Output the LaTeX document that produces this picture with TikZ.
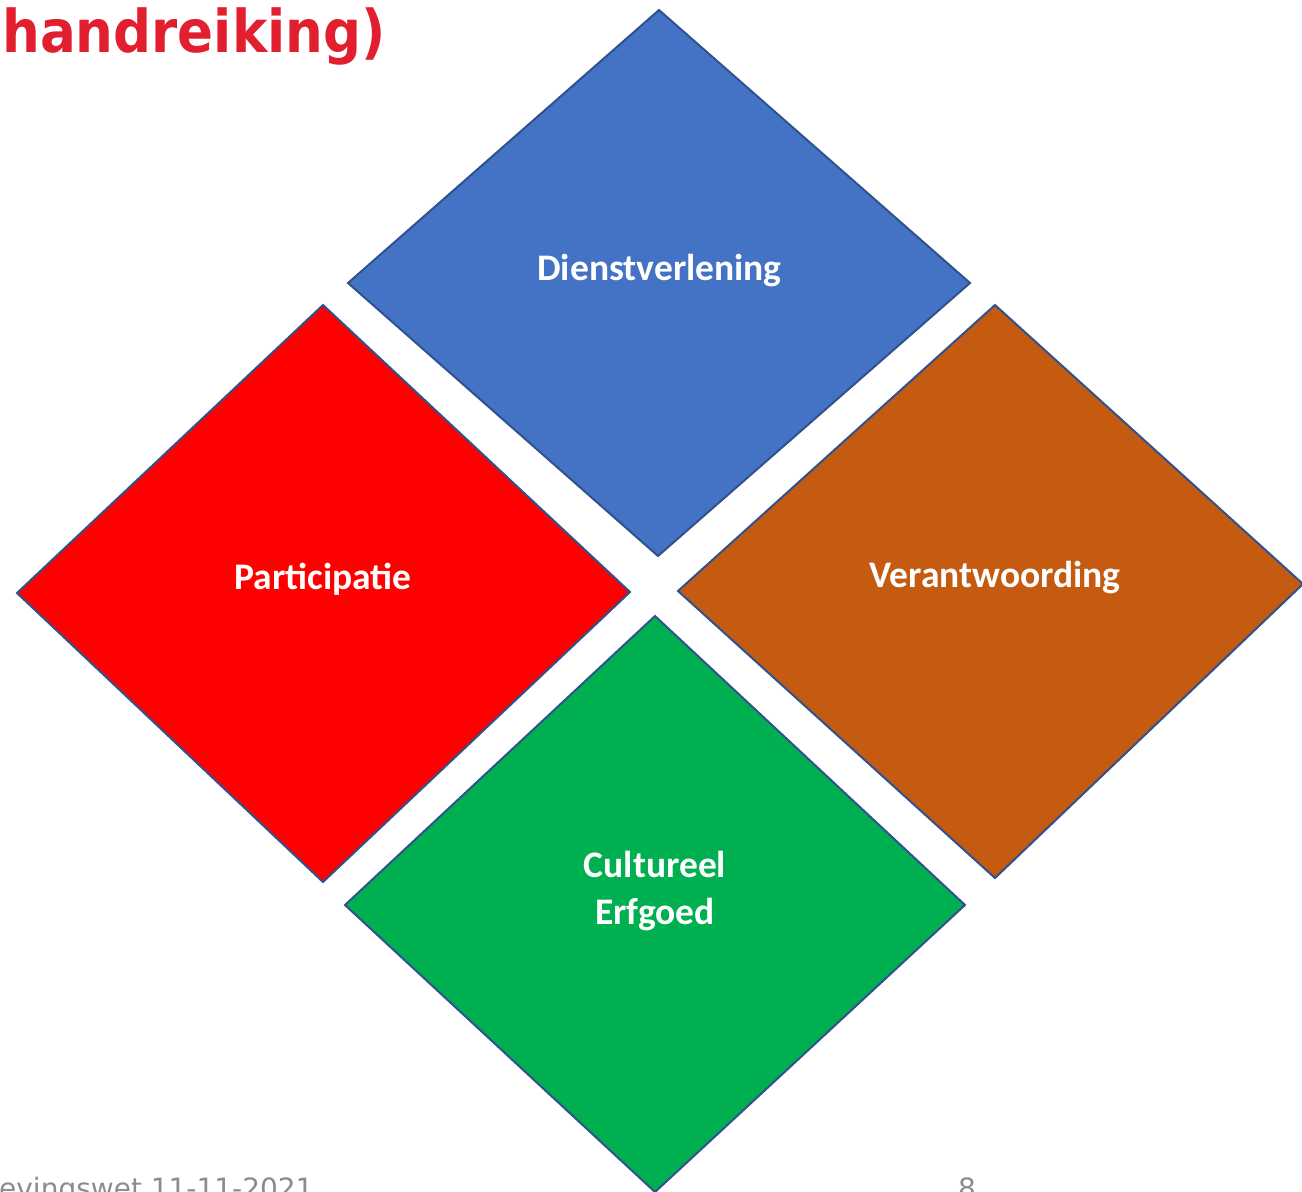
\documentclass[tikz,border=0pt]{standalone}
\usepackage{fontspec}
\setmainfont{Carlito}
\newfontfamily\titlefont{DejaVu Sans}
\newfontfamily\footfont{DejaVu Sans}
\definecolor{dblue}{HTML}{4472C4}
\definecolor{dred}{HTML}{FF0000}
\definecolor{dbrown}{HTML}{C55A11}
\definecolor{dgreen}{HTML}{00B050}
\definecolor{edgeblue}{HTML}{2F528F}
\definecolor{titlered}{HTML}{E21F2E}
\definecolor{footgray}{HTML}{8C8C8C}
\tikzset{
  tile/.style={draw=edgeblue, line width=2pt, line join=miter},
  lbl/.style={text=white, font=\fontsize{37.5}{47}\selectfont\bfseries, align=center, inner sep=0pt},
  foot/.style={text=footgray, font=\footfont\fontsize{28}{30}\selectfont, inner sep=0pt}
}
\begin{document}
\begin{tikzpicture}[x=1pt,y=-1pt]
\useasboundingbox (0,0) rectangle (1302,1192);
\clip (0,0) rectangle (1302,1192);
% tiles
\path[tile, fill=dblue]  (659,10) -- (970,283) -- (658,556) -- (348,283) -- cycle;
\path[tile, fill=dred]   (323,305) -- (630,592) -- (323,882) -- (17,593) -- cycle;
\path[tile, fill=dbrown] (995,305) -- (1303,584) -- (995,878) -- (678,591) -- cycle;
\path[tile, fill=dgreen] (655,616) -- (965,905) -- (655,1192) -- (345,905) -- cycle;
% labels
\node[lbl] (dienst) at (659.5,271) {Dienstverlening};
\node[lbl] (partic) at (323,579) {Participatie};
\node[lbl] (verant) at (995,578) {Verantwoording};
\node[lbl] (cultuur) at (655,891) {Cultureel\\Erfgoed};
% title
\node[anchor=base west, inner sep=0pt, text=titlered] (title) at (2,52)
  {\scalebox{0.9}[1]{\titlefont\fontsize{59}{60}\selectfont\bfseries handreiking)}};
% footer
\node[foot, anchor=base west] (footer) at (-1,1198) {evingswet 11-11-2021};
\node[foot, anchor=base] (page) at (967,1198) {8};
\end{tikzpicture}
\end{document}
